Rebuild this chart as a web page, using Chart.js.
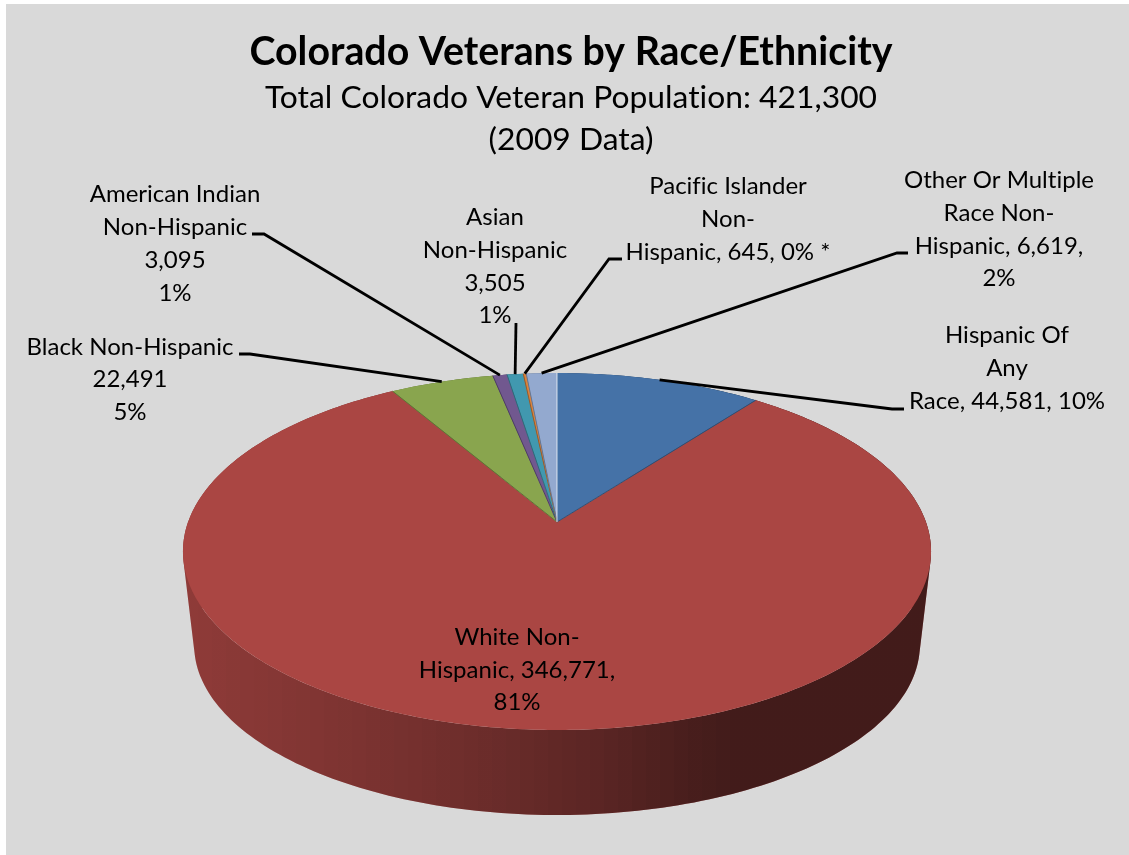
<!DOCTYPE html>
<html lang="en">
<head>
  <meta charset="UTF-8" />
  <title>Colorado Veterans by Race/Ethnicity</title>
  <script src="https://cdn.jsdelivr.net/npm/chart.js"></script>
  <style>
    body { margin: 0; background: #ffffff; }
    canvas { display: block; }
  </style>
</head>
<body>
  <canvas id="veteransChart" width="1129" height="855"></canvas>

  <script>
    const categories = [
      'Hispanic Of Any Race', 'White Non-Hispanic', 'Black Non-Hispanic',
      'American Indian Non-Hispanic', 'Asian Non-Hispanic',
      'Pacific Islander Non-Hispanic', 'Other Or Multiple Race Non-Hispanic'
    ];
    const veterans = [44581, 346771, 22491, 3095, 3505, 645, 6619];
    const sliceColors = ['#4572A7', '#AA4643', '#89A54E', '#71588F', '#4198AF', '#DB843D', '#93A9CF'];

    const sliceLabels = [
      ['Hispanic Of', 'Any', 'Race, 44,581, 10%'],
      ['White Non-', 'Hispanic, 346,771,', '81%'],
      ['Black Non-Hispanic', '22,491', '5%'],
      ['American Indian', 'Non-Hispanic', '3,095', '1%'],
      ['Asian', 'Non-Hispanic', '3,505', '1%'],
      ['Pacific Islander', 'Non-', 'Hispanic, 645, 0% *'],
      ['Other Or Multiple', 'Race Non-', 'Hispanic, 6,619,', '2%']
    ];

    // where each label block sits and where its leader line leaves it
    const labelPlaces = [
      { x: 1007, lineYs: [335, 368, 401], leader: [[904, 409], [892, 409]] },
      { x: 517, lineYs: [637, 670, 702], leader: null },
      { x: 130, lineYs: [347, 379, 412], leader: [[239, 354], [250, 354]] },
      { x: 175, lineYs: [194, 227, 260, 293], leader: [[252, 234], [264, 234]] },
      { x: 495, lineYs: [217, 250, 283, 315], leader: [[516, 323]] },
      { x: 728, lineYs: [186, 219, 252], leader: [[622, 259], [609, 259]] },
      { x: 999, lineYs: [180, 213, 246, 278], leader: [[908, 253], [897, 253]] }
    ];

    // perspective of the pie's top face: the apex is above the middle of the rim
    const pie = { cx: 557, cy: 522, a: 368.9, b: 173.6, k: 0.1653 };
    // the lower rim is the top rim moved down and a little smaller
    const lowerRim = { dy: 95, sx: 0.97, sy: 0.952 };
    // darkening of the outer wall from left to right
    const wallShade = [[184, 0.16], [350, 0.265], [500, 0.38], [600, 0.47], [680, 0.565], [730, 0.61], [935, 0.61]];
    const wallBand = 14;

    function rimPoint(theta) {
      const x = Math.sin(theta), y = Math.cos(theta), w = 1 + pie.k * y;
      return { x: pie.cx + pie.a * x / w, y: pie.cy - pie.b * y / w };
    }

    function lowerPoint(theta) {
      const p = rimPoint(theta);
      return {
        x: pie.cx + (p.x - pie.cx) * lowerRim.sx,
        y: pie.cy + lowerRim.dy + (p.y - pie.cy) * lowerRim.sy
      };
    }

    function traceRim(ctx, from, to) {
      const steps = Math.max(2, Math.ceil((to - from) / 0.01));
      for (let i = 0; i <= steps; i++) {
        const p = rimPoint(from + (to - from) * i / steps);
        ctx.lineTo(p.x, p.y);
      }
    }

    function shadeAt(x) {
      let i = 1;
      while (i < wallShade.length - 1 && wallShade[i][0] < x) i++;
      const [x0, a0] = wallShade[i - 1], [x1, a1] = wallShade[i];
      const t = Math.min(1, Math.max(0, (x - x0) / (x1 - x0)));
      return a0 + (a1 - a0) * t;
    }

    function darken(hex, alpha) {
      const n = parseInt(hex.slice(1), 16);
      const part = v => Math.round(v * (1 - alpha));
      return `rgb(${part(n >> 16)},${part((n >> 8) & 255)},${part(n & 255)})`;
    }

    // black overlay for the wall, in flat vertical bands
    function wallGradient(ctx) {
      const left = wallShade[0][0], right = wallShade[wallShade.length - 1][0];
      const gradient = ctx.createLinearGradient(left, 0, right, 0);
      for (let x = left; x < right; x += wallBand) {
        const color = `rgba(0,0,0,${shadeAt(x + wallBand / 2)})`;
        gradient.addColorStop((x - left) / (right - left), color);
        gradient.addColorStop(Math.min(1, (x + wallBand - left) / (right - left)), color);
      }
      return gradient;
    }

    // adds a quad to the path, always wound the same way so the quads add up when filled
    function addQuad(ctx, points) {
      let area = 0;
      points.forEach((p, i) => {
        const q = points[(i + 1) % points.length];
        area += p.x * q.y - q.x * p.y;
      });
      const ordered = area < 0 ? points.slice().reverse() : points;
      ctx.moveTo(ordered[0].x, ordered[0].y);
      ordered.slice(1).forEach(p => ctx.lineTo(p.x, p.y));
      ctx.closePath();
    }

    // chart.js works out the slice angles, this turns them into a tilted 3D pie
    const tiltedPie = {
      id: 'tiltedPie',
      beforeDraw(chart) {
        const ctx = chart.ctx;
        ctx.letterSpacing = '0.01px'; // keeps "ti" from turning into a ligature
        ctx.save();
        ctx.fillStyle = '#d9d9d9';
        ctx.fillRect(6, 4, chart.width - 6, chart.height - 4);
        ctx.restore();
      },
      beforeDatasetsDraw(chart) {
        const ctx = chart.ctx;
        const arcs = chart.getDatasetMeta(0).data;
        const angles = arcs.map(arc => [arc.startAngle + Math.PI / 2, arc.endAngle + Math.PI / 2]);
        ctx.save();

        // outer wall
        const overlay = wallGradient(ctx);
        angles.forEach(([from, to], i) => {
          const strips = Math.max(1, Math.ceil((to - from) / 0.02));
          ctx.beginPath();
          for (let s = 0; s < strips; s++) {
            const t0 = from + (to - from) * s / strips, t1 = from + (to - from) * (s + 1) / strips;
            addQuad(ctx, [rimPoint(t0), rimPoint(t1), lowerPoint(t1), lowerPoint(t0)]);
          }
          ctx.fillStyle = sliceColors[i];
          ctx.fill();
          ctx.fillStyle = overlay;
          ctx.fill();
        });

        // top face
        angles.forEach(([from, to], i) => {
          ctx.beginPath();
          ctx.moveTo(pie.cx, pie.cy);
          traceRim(ctx, from, to);
          ctx.closePath();
          ctx.fillStyle = sliceColors[i];
          ctx.fill();
        });

        // bevel on the lower radial edge of the narrow slices, highlight at 12 o'clock
        ctx.lineWidth = 1;
        angles.forEach(([from, to], i) => {
          if (to - from > Math.PI) return;
          const edge = rimPoint((from + to) / 2 > Math.PI ? from : to);
          ctx.beginPath();
          ctx.moveTo(pie.cx, pie.cy);
          ctx.lineTo(edge.x, edge.y);
          ctx.strokeStyle = darken(sliceColors[i], 0.3);
          ctx.stroke();
        });
        const top = rimPoint(angles[0][0]);
        ctx.lineWidth = 1.5;
        ctx.beginPath();
        ctx.moveTo(pie.cx, pie.cy);
        ctx.lineTo(top.x, top.y);
        ctx.strokeStyle = 'rgba(255,255,255,0.5)';
        ctx.stroke();

        ctx.restore();
        return false;
      },
      afterDraw(chart) {
        const ctx = chart.ctx;
        const arcs = chart.getDatasetMeta(0).data;
        ctx.save();

        // leader lines run from the label to the middle of the slice's rim
        ctx.strokeStyle = '#000000';
        ctx.lineWidth = 2.8;
        labelPlaces.forEach((place, i) => {
          if (!place.leader) return;
          const end = rimPoint((arcs[i].startAngle + arcs[i].endAngle) / 2 + Math.PI / 2);
          ctx.beginPath();
          place.leader.forEach(([x, y]) => ctx.lineTo(x, y));
          ctx.lineTo(end.x, end.y);
          ctx.stroke();
        });

        ctx.fillStyle = '#000000';
        ctx.font = '24px Lato';
        ctx.textAlign = 'center';
        ctx.textBaseline = 'middle';
        sliceLabels.forEach((lines, i) => {
          lines.forEach((line, n) => ctx.fillText(line, labelPlaces[i].x, labelPlaces[i].lineYs[n]));
        });
        ctx.restore();
      }
    };

    new Chart(document.getElementById('veteransChart'), {
      type: 'pie',
      data: {
        labels: categories,
        datasets: [{ data: veterans, backgroundColor: sliceColors }]
      },
      options: {
        responsive: false,
        animation: false,
        layout: { padding: { left: 13 } },
        plugins: {
          legend: { display: false },
          tooltip: { enabled: false },
          title: {
            display: true,
            text: 'Colorado Veterans by Race/Ethnicity',
            color: '#000000',
            font: { family: 'Lato', size: 39.3, weight: 'bold', lineHeight: 1.15 },
            padding: { top: 30, bottom: 2 }
          },
          subtitle: {
            display: true,
            text: ['Total Colorado Veteran Population: 421,300', '(2009 Data)'],
            color: '#000000',
            font: { family: 'Lato', size: 31.8, weight: 'normal', lineHeight: 1.32 },
            padding: { top: 0, bottom: 20 }
          }
        }
      },
      plugins: [tiltedPie]
    });
  </script>
</body>
</html>
